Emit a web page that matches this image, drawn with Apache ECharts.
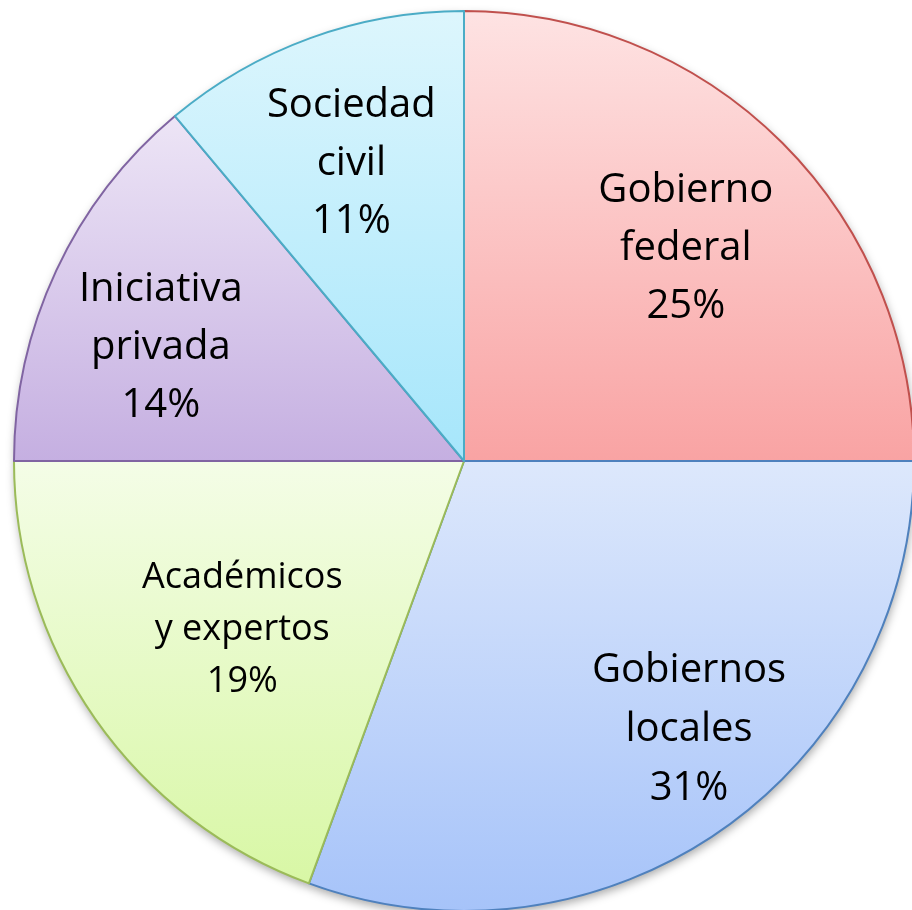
<!DOCTYPE html>
<html><head><meta charset="utf-8">
<script src="https://cdn.jsdelivr.net/npm/echarts@6/dist/echarts.min.js"></script>
<style>html,body{margin:0;padding:0;background:#fff}#c{width:912px;height:910px}</style>
</head><body><div id="c"></div>
<script>
const categories = ["Gobierno\nfederal", "Gobiernos\nlocales", "Académicos\ny expertos", "Iniciativa\nprivada", "Sociedad\ncivil"];
const values = [25, 30.6, 19.4, 13.9, 11.1];
const topColors = ["#fee3e3", "#dde8fc", "#f4fde7", "#ede5f6", "#ddf6fd"];
const bottomColors = ["#f9a3a3", "#a6c3f9", "#d8f7a5", "#c5afe1", "#a6e6fb"];
const borderColors = ["#c0504d", "#4f81bd", "#9bbb59", "#8064a2", "#4bacc6"];
const labelOffsets = [[-3, 12], [43, 8], [39, -13], [-15, 21], [-4, 1]];
const labelSizes = [40, 40, 36, 40, 40];
const labelLineHeights = [58, 59, 52, 58, 58];

const chart = echarts.init(document.getElementById('c'));
const FONT = '"Open Sans", sans-serif';
const mainData = values.map((v, i) => ({
  name: categories[i], value: v,
  itemStyle: {
    color: new echarts.graphic.LinearGradient(0, 0, 0, 1, [
      {offset: 0, color: topColors[i]}, {offset: 1, color: bottomColors[i]}
    ]),
    borderColor: borderColors[i], borderWidth: 2
  }
}));
const labelData = values.map((v, i) => ({
  name: categories[i], value: v,
  label: {offset: labelOffsets[i], fontSize: labelSizes[i], lineHeight: labelLineHeights[i]}
}));
const shadowData = values.map((v, i) => ({name: categories[i], value: v}));
chart.setOption({
  animation: false,
  series: [
    {
      type: 'pie', center: [464, 461], radius: [0, 450], startAngle: 90, clockwise: true,
      silent: true, z: 1, label: {show: false}, labelLine: {show: false},
      itemStyle: {color: '#fff', borderWidth: 0, shadowBlur: 10, shadowOffsetY: 4, shadowOffsetX: 1, shadowColor: 'rgba(0,0,0,0.35)'},
      data: shadowData
    },
    {
      type: 'pie', center: [464, 461], radius: [0, 450], startAngle: 90, clockwise: true,
      silent: true, z: 2, label: {show: false}, labelLine: {show: false},
      data: mainData
    },
    {
      type: 'pie', center: [464, 461], radius: [180, 450], startAngle: 90, clockwise: true,
      silent: true, z: 3, itemStyle: {color: 'rgba(0,0,0,0)', borderWidth: 0},
      label: {
        show: true, position: 'inside', color: '#000', fontFamily: FONT,
        formatter: p => p.name + '\n' + Math.round(p.percent) + '%', align: 'center'
      },
      labelLine: {show: false},
      data: labelData
    }
  ]
});
</script></body></html>
